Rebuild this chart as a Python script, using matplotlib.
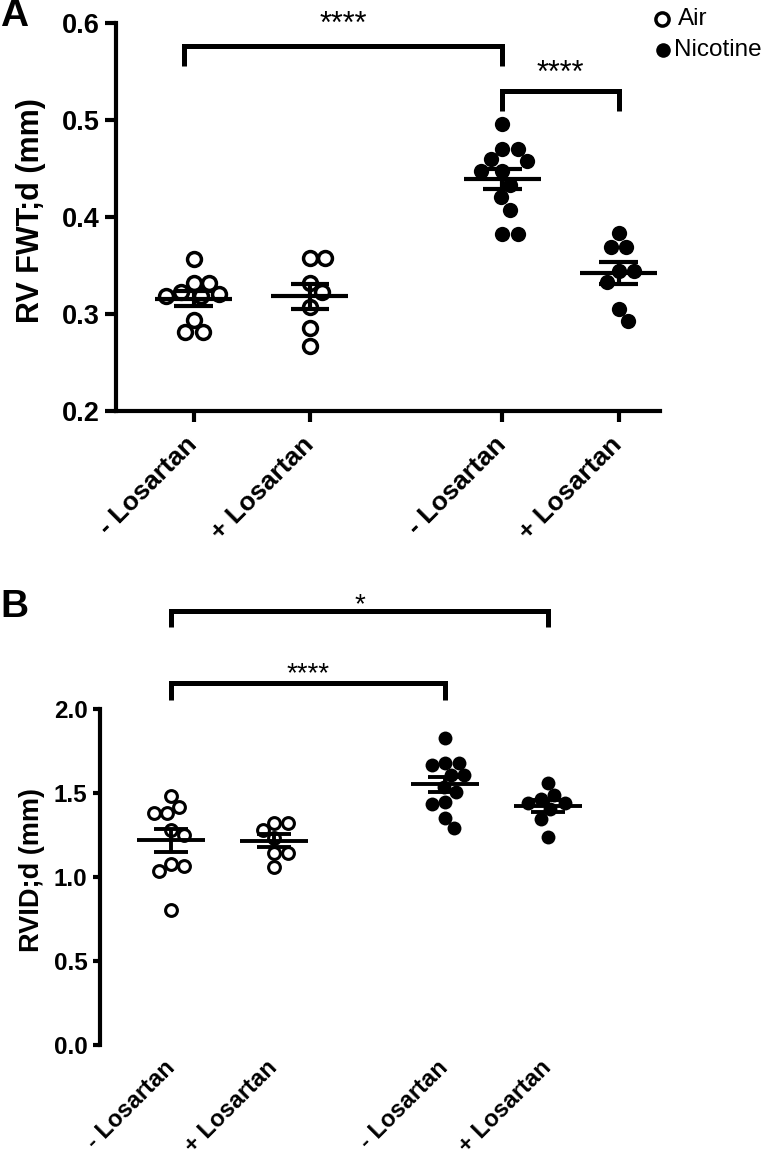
import matplotlib
matplotlib.use('Agg')
import matplotlib.pyplot as plt
from matplotlib.lines import Line2D
import numpy as np

plt.rcParams['font.family'] = ['Liberation Sans', 'DejaVu Sans']

# categories
tick_labels = ['- Losartan', '+ Losartan', '- Losartan', '+ Losartan']
legend_labels = ['Air', 'Nicotine']

# panel A: RV FWT;d (mm), one list per group
fwt_air_minus = [0.356, 0.332, 0.332, 0.322, 0.318, 0.318, 0.320, 0.294, 0.281, 0.281]
fwt_air_plus = [0.357, 0.357, 0.332, 0.322, 0.307, 0.285, 0.267]
fwt_nic_minus = [0.496, 0.470, 0.470, 0.459, 0.457, 0.447, 0.447, 0.433, 0.420, 0.407, 0.382, 0.382]
fwt_nic_plus = [0.383, 0.369, 0.369, 0.344, 0.344, 0.333, 0.305, 0.292]

# panel B: RVID;d (mm)
rvid_air_minus = [1.482, 1.379, 1.383, 1.418, 1.280, 1.250, 1.077, 1.038, 1.065, 0.804]
rvid_air_plus = [1.323, 1.323, 1.280, 1.230, 1.145, 1.145, 1.061]
rvid_nic_minus = [1.827, 1.680, 1.680, 1.667, 1.607, 1.607, 1.538, 1.508, 1.435, 1.445, 1.349, 1.290]
rvid_nic_plus = [1.561, 1.488, 1.463, 1.442, 1.439, 1.403, 1.343, 1.236]

fwt_ticks = [0.2, 0.3, 0.4, 0.5, 0.6]
rvid_ticks = [0.0, 0.5, 1.0, 1.5, 2.0]

W, H = 771, 1176
xpos = [0, 1, 2.66, 3.66]
filled = [False, False, True, True]


def px_box(left, top, right, bottom):
    return [left / W, 1 - bottom / H, (right - left) / W, (bottom - top) / H]


def swarm(ax, x0, vals, gap):
    '''simple beeswarm in pixel space, returns x data positions'''
    pts = ax.transData.transform(np.column_stack([np.full(len(vals), x0), vals]))
    cx = pts[0, 0]
    ys = pts[:, 1]
    xs = np.zeros(len(vals))
    placed = []
    for i in np.argsort(-ys):
        y = ys[i]
        cands = [0.0]
        for px, py in placed:
            dy = y - py
            if abs(dy) < gap:
                dx = np.sqrt(gap ** 2 - dy ** 2)
                cands += [px + dx, px - dx]
        cands.sort(key=abs)
        for c in cands:
            if all((c - px) ** 2 + (y - py) ** 2 >= gap ** 2 - 1e-6 for px, py in placed):
                break
        xs[i] = c
        placed.append((c, y))
    inv = ax.transData.inverted()
    return inv.transform(np.column_stack([cx + xs, ys]))[:, 0]


def draw_groups(ax, groups, gap, ms, mew, ms_full, lw):
    for x0, vals, full in zip(xpos, groups, filled):
        vals = np.array(vals)
        xs = swarm(ax, x0, vals, gap)
        if full:
            ax.plot(xs, vals, 'o', ms=ms_full, mfc='black', mec='black', mew=0,
                    ls='none', zorder=3, clip_on=False)
        else:
            ax.plot(xs, vals, 'o', ms=ms, mfc='none', mec='black', mew=mew,
                    ls='none', zorder=3, clip_on=False)
        m = vals.mean()
        s = vals.std(ddof=1) / np.sqrt(len(vals))
        kw = dict(color='black', lw=lw, solid_capstyle='butt', zorder=4)
        ax.plot([x0 - 0.33, x0 + 0.33], [m, m], **kw)
        ax.plot([x0, x0], [m - s, m + s], **kw)
        ax.plot([x0 - 0.165, x0 + 0.165], [m + s, m + s], **kw)
        ax.plot([x0 - 0.165, x0 + 0.165], [m - s, m - s], **kw)


def bracket(ax, i, j, ytop, ybot, text, ytext, fs, dx_left=0.0):
    x1 = xpos[i] + dx_left
    ax.plot([x1, x1, xpos[j], xpos[j]], [ybot, ytop, ytop, ybot],
            color='black', lw=3.6, solid_joinstyle='miter', solid_capstyle='butt', clip_on=False)
    ax.text((x1 + xpos[j]) / 2, ytext, text, ha='center', va='baseline',
            fontsize=fs, clip_on=False)


fig = plt.figure(figsize=(W / 100, H / 100), dpi=100)

# Panel A
axA = fig.add_axes(px_box(116, 22.7, 660, 410.7))
axA.set_xlim(-0.668, 4.017)
axA.set_ylim(0.2, 0.6)
for side in ['top', 'right']:
    axA.spines[side].set_visible(False)
for side in ['left', 'bottom']:
    axA.spines[side].set_linewidth(3)
axA.set_yticks(fwt_ticks, ['%.1f' % t for t in fwt_ticks], fontsize=19.5, fontweight='bold')
axA.set_xticks(xpos, tick_labels, fontsize=19, fontweight='bold', rotation=45,
               ha='right', va='center', rotation_mode='anchor')
axA.tick_params(axis='y', length=8, width=3, pad=3.5)
axA.tick_params(axis='x', length=8, width=3, pad=14)
axA.set_ylabel('RV FWT;d (mm)', fontsize=22, fontweight='bold')
axA.yaxis.set_label_coords(-0.129, 0.517)
draw_groups(axA, [fwt_air_minus, fwt_air_plus, fwt_nic_minus, fwt_nic_plus],
            gap=15.5, ms=10, mew=2.5, ms_full=11, lw=3)
bracket(axA, 0, 2, 0.5763, 0.5557, '****', 0.5894, 22, dx_left=-0.08)
bracket(axA, 2, 3, 0.5292, 0.509, '****', 0.5388, 22)

# Panel B
axB = fig.add_axes(px_box(100, 709, 583, 1045))
axB.set_xlim(-0.69, 4.0)
axB.set_ylim(0.0, 2.0)
for side in ['top', 'right', 'bottom']:
    axB.spines[side].set_visible(False)
axB.spines['left'].set_linewidth(3)
axB.set_yticks(rvid_ticks, ['%.1f' % t for t in rvid_ticks], fontsize=17.5, fontweight='bold')
axB.set_xticks(xpos, tick_labels, fontsize=17, fontweight='bold', rotation=45,
               ha='right', va='center', rotation_mode='anchor')
axB.tick_params(axis='y', length=5, width=3, pad=4)
axB.tick_params(axis='x', length=0, pad=14)
axB.set_ylabel('RVID;d (mm)', fontsize=19.5, fontweight='bold')
axB.yaxis.set_label_coords(-0.114, 0.52)
draw_groups(axB, [rvid_air_minus, rvid_air_plus, rvid_nic_minus, rvid_nic_plus],
            gap=13.5, ms=8.5, mew=2.2, ms_full=10, lw=2.8)
bracket(axB, 0, 3, 2.585, 2.488, '*', 2.577, 20)
bracket(axB, 0, 2, 2.155, 2.054, '****', 2.167, 20)

# panel letters
fig.text(14 / W, 1 - 16 / H, 'A', fontsize=28, fontweight='bold', ha='center', va='center')
fig.text(14 / W, 1 - 607 / H, 'B', fontsize=28, fontweight='bold', ha='center', va='center')

# legend
fig.add_artist(Line2D([662 / W], [1 - 19 / H], transform=fig.transFigure, marker='o', ms=9.5,
                      mfc='none', mec='black', mew=2.5, ls='none'))
fig.add_artist(Line2D([663 / W], [1 - 50 / H], transform=fig.transFigure, marker='o', ms=10.5,
                      mfc='black', mec='black', mew=0, ls='none'))
fig.text(678 / W, 1 - 19 / H, legend_labels[0], fontsize=17.5, ha='left', va='center')
fig.text(674 / W, 1 - 50 / H, legend_labels[1], fontsize=17.5, ha='left', va='center')

fig.savefig('out.png', dpi=100)
